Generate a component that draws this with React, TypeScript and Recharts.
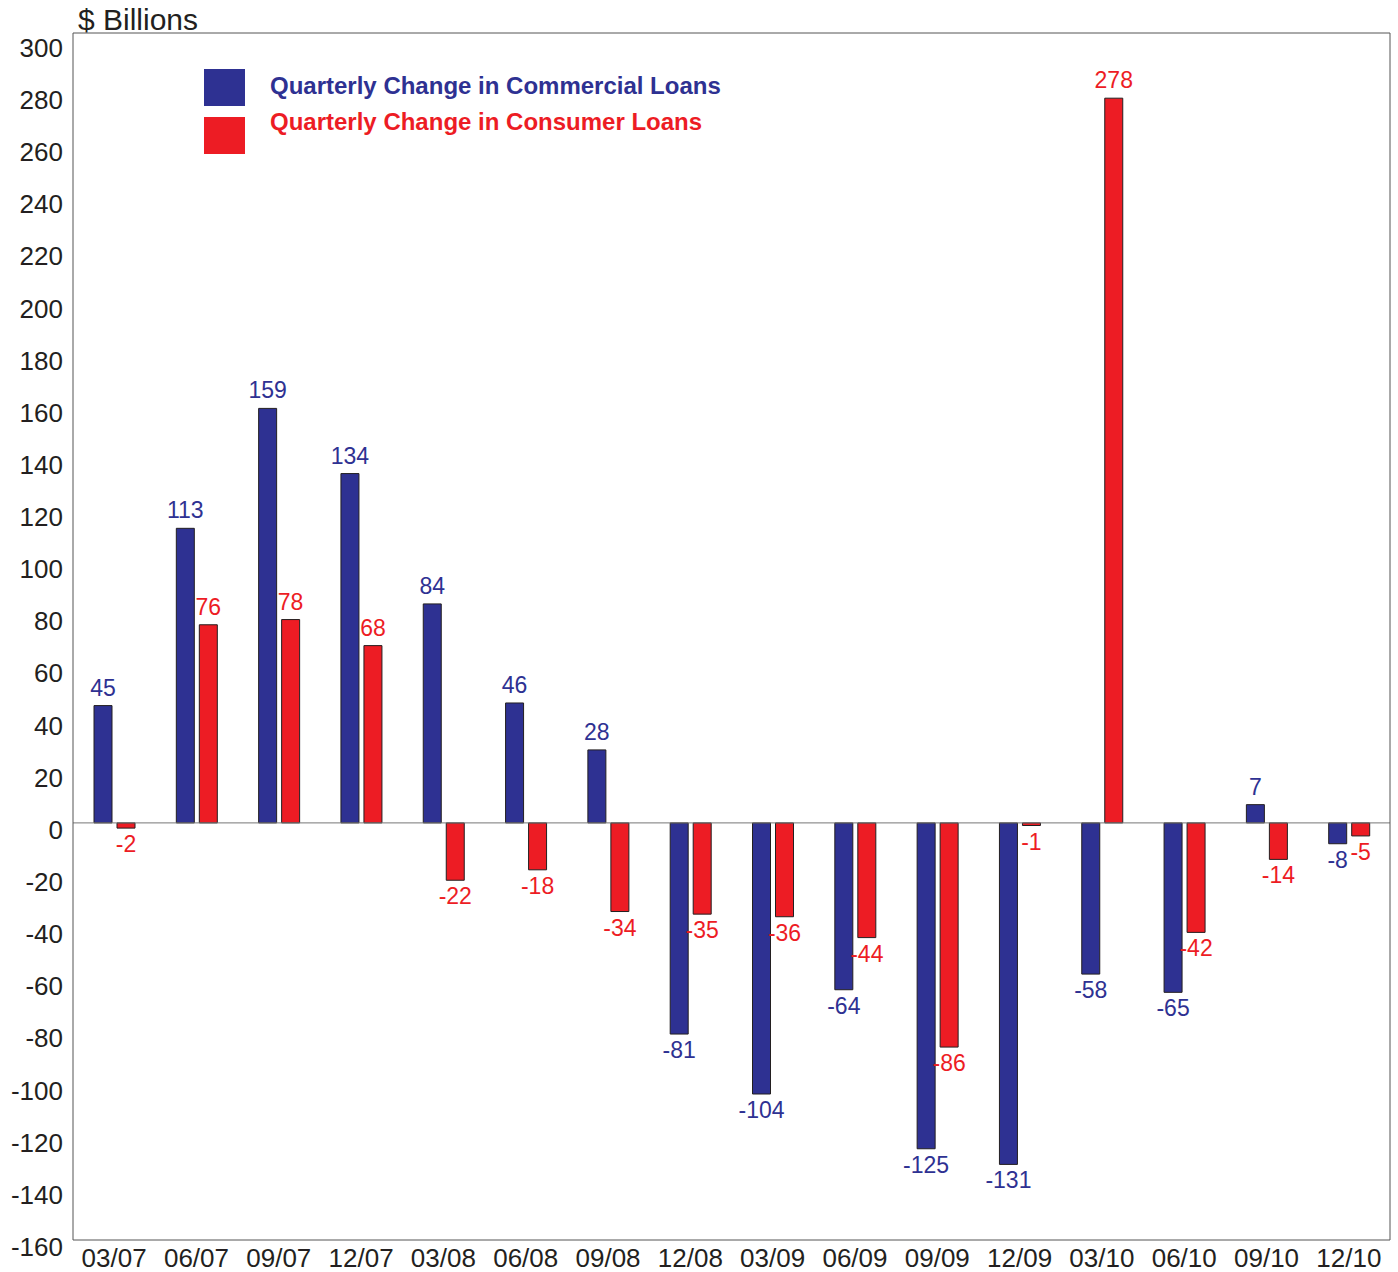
import { Bar, BarChart, XAxis, YAxis, LabelList, ReferenceLine } from "recharts"

const quarters = [
  "03/07", "06/07", "09/07", "12/07", "03/08", "06/08", "09/08", "12/08",
  "03/09", "06/09", "09/09", "12/09", "03/10", "06/10", "09/10", "12/10",
]
const commercial = [45, 113, 159, 134, 84, 46, 28, -81, -104, -64, -125, -131, -58, -65, 7, -8]
const consumer = [-2, 76, 78, 68, -22, -18, -34, -35, -36, -44, -86, -1, 278, -42, -14, -5]
const yTicks = [300, 280, 260, 240, 220, 200, 180, 160, 140, 120, 100, 80, 60, 40, 20, 0,
  -20, -40, -60, -80, -100, -120, -140, -160]

const series = [
  { key: "commercial", name: "Quarterly Change in Commercial Loans", color: "#2E3192" },
  { key: "consumer", name: "Quarterly Change in Consumer Loans", color: "#ED1C24" },
]

const data = quarters.map((q, i) => ({ quarter: q, commercial: commercial[i], consumer: consumer[i] }))

const FONT = "'Liberation Sans', Arial, sans-serif"
const INK = "#231F20"

const valueLabel = (color: string) => (props: any) => {
  const x = Number(props.x)
  const y = Number(props.y)
  const w = Number(props.width)
  const h = Number(props.height)
  const v = Number(props.value)
  const top = Math.min(y, y + h)
  const bottom = Math.max(y, y + h)
  return (
    <text x={x + w / 2} y={v >= 0 ? top - 10 : bottom + 24} textAnchor="middle" fill={color}
      fontSize={23} fontFamily={FONT}>
      {v}
    </text>
  )
}

const YTick = (props: any) => (
  <text x={props.x - 2} y={props.y + 16} textAnchor="end" fill={INK} fontSize={26} fontFamily={FONT}>
    {props.payload.value}
  </text>
)

const XTick = (props: any) => (
  <text x={props.x} y={props.y + 19} textAnchor="middle" fill={INK} fontSize={26} fontFamily={FONT}>
    {props.payload.value}
  </text>
)

export default function App() {
  return (
    <div style={{ position: "absolute", left: 0, top: 0, width: 1398, height: 1272, background: "#fff" }}>
      <BarChart width={1398} height={1272} data={data} barSize={18} barGap={5}
        margin={{ top: 32, right: 7, bottom: 0, left: 0 }}>
        <XAxis dataKey="quarter" height={32} axisLine={{ stroke: "#555" }} tickLine={false} tick={<XTick />}
          interval={0} />
        <XAxis xAxisId="top" dataKey="quarter" orientation="top" height={1} axisLine={{ stroke: "#555" }}
          tickLine={false} tick={false} />
        <YAxis domain={[-160, 303]} ticks={yTicks} width={73} axisLine={{ stroke: "#555" }} tickLine={false}
          tick={<YTick />} interval={0} />
        <YAxis yAxisId="right" orientation="right" domain={[-160, 303]} width={1} axisLine={{ stroke: "#555" }}
          tickLine={false} tick={false} />
        <ReferenceLine y={0} stroke="#777" />
        {series.map((s) => (
          <Bar key={s.key} dataKey={s.key} name={s.name} fill={s.color} stroke={INK} strokeWidth={1}
            isAnimationActive={false}>
            <LabelList dataKey={s.key} content={valueLabel(s.color)} />
          </Bar>
        ))}
      </BarChart>
      <div style={{ position: "absolute", left: 78, top: 0, fontFamily: FONT, fontSize: 30, color: INK, lineHeight: "40px" }}>
        $ Billions
      </div>
      {series.map((s, i) => (
        <div key={s.key}>
          <div style={{ position: "absolute", left: 204, top: 69 + i * 48, width: 41, height: 37, background: s.color }} />
          <div style={{ position: "absolute", left: 270, top: 70 + i * 36, height: 32, lineHeight: "32px",
            color: s.color, fontWeight: "bold", fontSize: 24, fontFamily: FONT, whiteSpace: "nowrap" }}>
            {s.name}
          </div>
        </div>
      ))}
    </div>
  )
}
